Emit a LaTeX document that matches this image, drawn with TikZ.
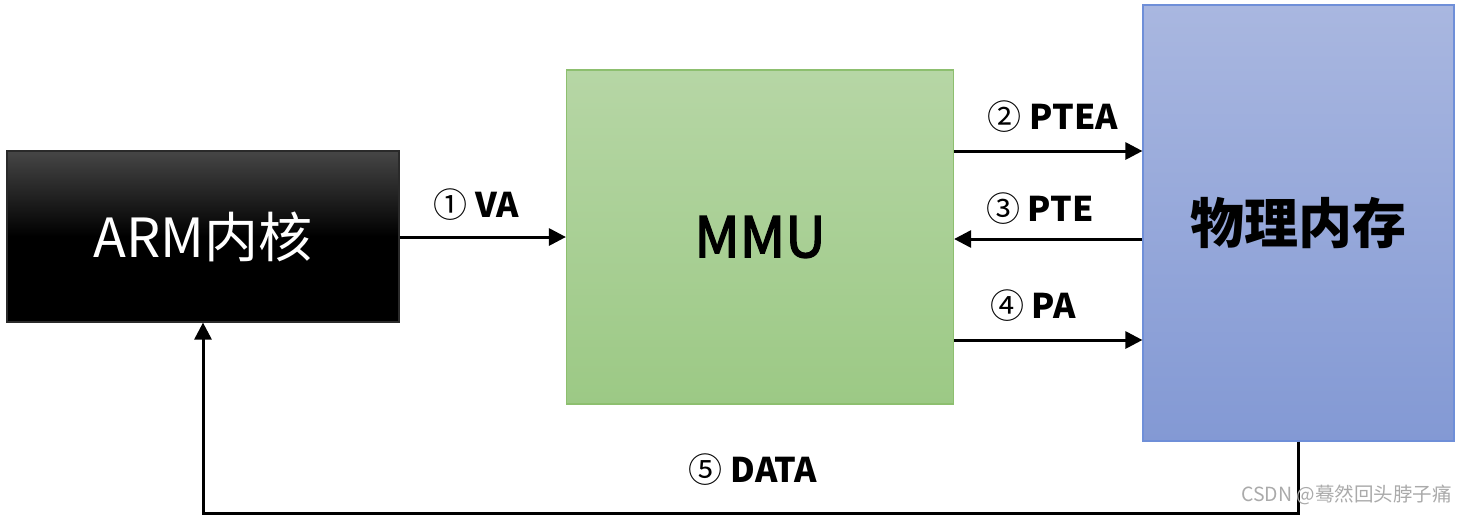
\documentclass[tikz,border=0pt]{standalone}
\usepackage{fontspec}
\setmainfont{Noto Sans CJK SC}
\newfontfamily\medfont{Noto Sans CJK SC}[FakeBold=2.6]
\usetikzlibrary{arrows.meta}
\definecolor{mmutop}{RGB}{182,214,165}
\definecolor{mmubot}{RGB}{156,201,133}
\definecolor{mmuline}{RGB}{141,191,111}
\definecolor{memtop}{RGB}{169,183,224}
\definecolor{membot}{RGB}{131,153,212}
\definecolor{memline}{RGB}{111,143,216}
\definecolor{armtop}{RGB}{70,70,70}
\definecolor{wm}{RGB}{170,170,170}
\newcommand{\cnum}[1]{{\mdseries #1}}
\tikzset{
  box/.style={draw, line width=1.2pt, inner sep=0pt, align=center},
  arr/.style={line width=3pt, -{Triangle[length=17pt,width=17pt]}},
  lbl/.style={font=\fontsize{34}{38}\selectfont\bfseries, inner sep=0pt},
}
\begin{document}
\begin{tikzpicture}[x=1pt,y=-1pt]
\useasboundingbox (0,0) rectangle (1463,515);
\node[box, draw=armtop!60!black, top color=armtop, bottom color=black, middle color=black,
  minimum width=392pt, minimum height=171pt, text=white,
  font=\fontsize{54}{60}\selectfont] (arm) at (203,236.5) {ARM内核};
\node[box, draw=mmuline, top color=mmutop, bottom color=mmubot,
  minimum width=387pt, minimum height=334pt,
  font=\fontsize{56}{62}\medfont] (mmu) at (760,237) {MMU};
\node[box, draw=memline, top color=memtop, bottom color=membot,
  minimum width=311pt, minimum height=436pt,
  font=\fontsize{54}{60}\selectfont\bfseries] (mem) at (1298.5,223) {物理内存};

\draw[arr] (arm.east |- 0,237) -- (mmu.west |- 0,237);
\draw[arr] (mmu.east |- 0,151) -- (mem.west |- 0,151);
\draw[arr] (mem.west |- 0,239) -- (mmu.east |- 0,239);
\draw[arr] (mmu.east |- 0,340) -- (mem.west |- 0,340);
\draw[arr] (mem.south) -- ++(0,72) coordinate (dc) -| (arm.south);

\node[lbl] (lva) at (476,205) {\cnum{①} VA};
\node[lbl] (lptea) at (1053,117) {\cnum{②} PTEA};
\node[lbl] (lpte) at (1040,209) {\cnum{③} PTE};
\node[lbl] (lpa) at (1033,306) {\cnum{④} PA};
\node[lbl] (ldata) at (753,470) {\cnum{⑤} DATA};
\node[text=wm, font=\fontsize{19.5}{22}\selectfont, inner sep=0pt, anchor=east] (wmk) at (1452,495) {CSDN @蓦然回头脖子痛};
\end{tikzpicture}
\end{document}
